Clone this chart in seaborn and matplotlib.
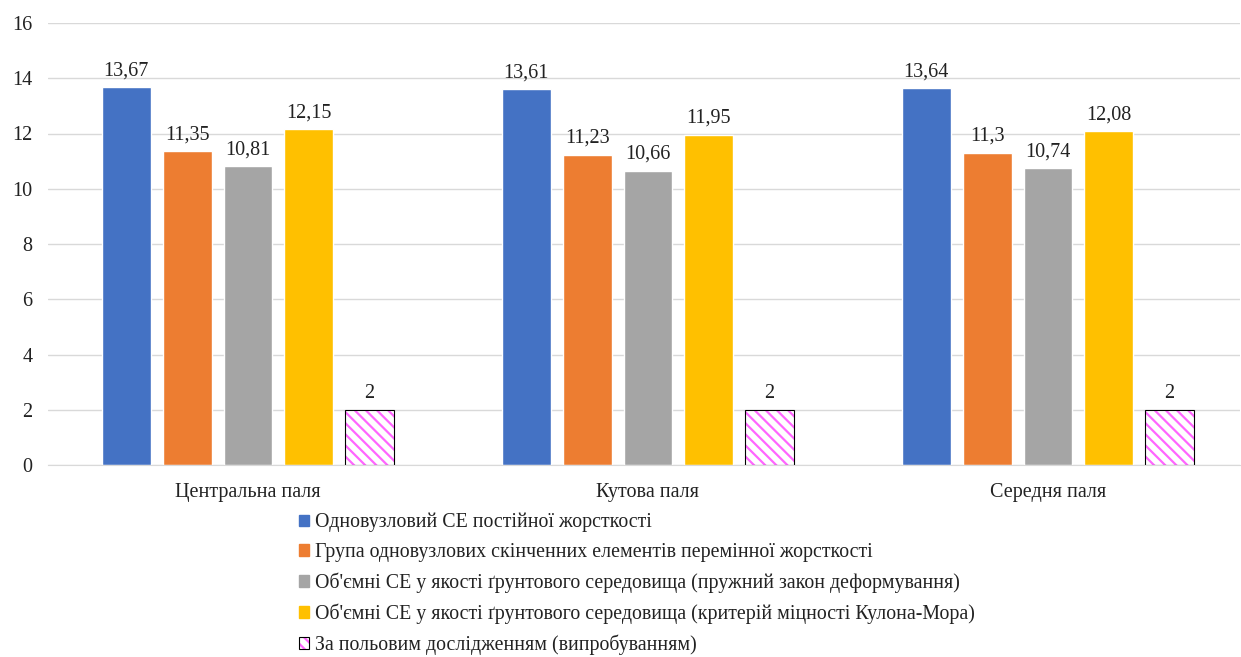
import matplotlib
matplotlib.use("Agg")
import matplotlib.pyplot as plt
from matplotlib.patches import Patch, Rectangle
import seaborn as sns
import pandas as pd

categories = ["Центральна паля", "Кутова паля", "Середня паля"]
series_names = [
    "Одновузловий СЕ постійної жорсткості",
    "Група одновузлових скінченних елементів перемінної жорсткості",
    "Об'ємні СЕ у якості ґрунтового середовища (пружний закон деформування)",
    "Об'ємні СЕ у якості ґрунтового середовища (критерій міцності Кулона-Мора)",
    "За польовим дослідженням (випробуванням)",
]
s1 = [13.67, 13.61, 13.64]
s2 = [11.35, 11.23, 11.30]
s3 = [10.81, 10.66, 10.74]
s4 = [12.15, 11.95, 12.08]
s5 = [2, 2, 2]
colors = ["#4472C4", "#ED7D31", "#A5A5A5", "#FFC000", "#FF66FF"]

rows = []
for name, vals in zip(series_names, [s1, s2, s3, s4, s5]):
    for cat, v in zip(categories, vals):
        rows.append({"cat": cat, "series": name, "value": v})
df = pd.DataFrame(rows)

sns.set_style("white")
plt.rcParams["font.family"] = ["Liberation Serif", "DejaVu Serif"]
plt.rcParams["hatch.linewidth"] = 1.6

FS = 14.5
fig = plt.figure(figsize=(12.41, 6.57), dpi=100)
ax = fig.add_axes([48 / 1241, 1 - 465 / 657, (1240 - 48) / 1241, (465 - 23) / 657])

sns.barplot(data=df, x="cat", y="value", hue="series", hue_order=series_names,
            order=categories, palette=colors, width=0.76, gap=0.2,
            legend=False, saturation=1, ax=ax, errorbar=None)

# last series: white with pink hatch and black outline
hatch = "\\\\\\"
for p in ax.containers[-1]:
    p.set_facecolor("white")
    p.set_edgecolor(colors[-1])
    p.set_hatch(hatch)
    p.set_linewidth(0)
    ax.add_patch(Rectangle(p.get_xy(), p.get_width(), p.get_height(),
                           fill=False, edgecolor="black", linewidth=0.8, zorder=p.get_zorder() + 0.1))

for container in ax.containers:
    labels = [f"{v:g}".replace(".", ",") for v in container.datavalues]
    ax.bar_label(container, labels=labels, padding=5, fontsize=FS, color="#222222")

ax.set_xlim(-0.5, 2.48)
ax.set_ylim(0, 16)
ax.set_yticks(range(0, 17, 2))
ax.yaxis.grid(True, color="#D9D9D9", linewidth=1)
ax.set_axisbelow(True)
for side in ["left", "right", "top"]:
    ax.spines[side].set_visible(False)
ax.spines["bottom"].set_color("#D9D9D9")
ax.tick_params(axis="both", length=0, labelsize=FS, colors="#222222")
ax.tick_params(axis="x", pad=13)
ax.tick_params(axis="y", pad=11)
ax.set_xlabel("")
ax.set_ylabel("")

handles = [Patch(facecolor=c, edgecolor=c) for c in colors[:-1]]
handles.append((Patch(facecolor="white", edgecolor=colors[-1], hatch=hatch, linewidth=0),
                Patch(fill=False, edgecolor="black", linewidth=0.8)))
fig.legend(handles, series_names, loc="upper left", bbox_to_anchor=(299 / 1241, 1 - 513 / 657),
           frameon=False, fontsize=14.3, handlelength=0.5, handleheight=0.5,
           handletextpad=0.3, labelspacing=0.53, borderaxespad=0, borderpad=0,
           labelcolor="#222222")

fig.savefig("out.png", dpi=100)
